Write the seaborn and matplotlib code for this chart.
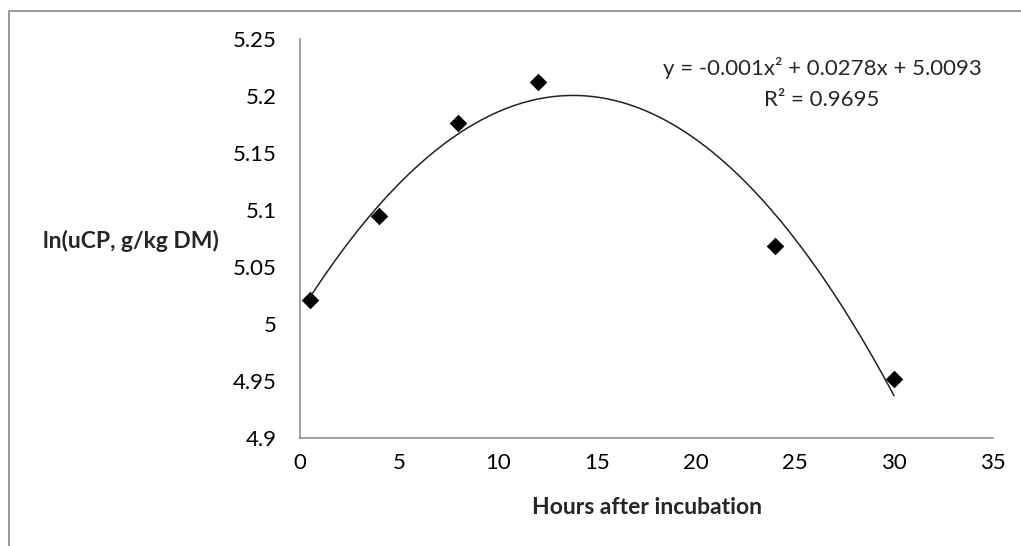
import numpy as np
import pandas as pd
import matplotlib
matplotlib.use('Agg')
import matplotlib.pyplot as plt
import seaborn as sns
from matplotlib.ticker import FuncFormatter, MultipleLocator
from matplotlib.patches import Rectangle

# ==============================
# Data
# ==============================
hours = [0.5, 4, 8, 12, 24, 30]
ln_ucp = [5.021, 5.095, 5.177, 5.213, 5.0685, 4.952]
equation = "y = -0.001x² + 0.0278x + 5.0093"
r_squared = "R² = 0.9695"

df = pd.DataFrame({"hours": hours, "ln_ucp": ln_ucp})

sns.set_style("white")
plt.rcParams['font.family'] = ['Lato', 'DejaVu Sans']

fig = plt.figure(figsize=(10.21, 5.46), dpi=100)
ax = fig.add_axes([300 / 1021, 1 - 438 / 546, 693 / 1021, 398.5 / 546])

# points + 2nd order trendline
sns.regplot(data=df, x="hours", y="ln_ucp", order=2, ci=None, ax=ax,
            marker="D",
            scatter_kws={"color": "black", "s": 80, "edgecolor": "black", "linewidths": 0, "alpha": 1},
            line_kws={"color": "#222222", "linewidth": 1.1})

ax.set_xlim(0, 35)
ax.set_ylim(4.9, 5.25)
ax.xaxis.set_major_locator(MultipleLocator(5))
ax.yaxis.set_major_locator(MultipleLocator(0.05))
ax.yaxis.set_major_formatter(FuncFormatter(lambda v, p: f"{v:g}"))

gray = "#868686"
for s in ["top", "right"]:
    ax.spines[s].set_visible(False)
for s in ["left", "bottom"]:
    ax.spines[s].set_color(gray)
    ax.spines[s].set_linewidth(1.1)
ax.tick_params(axis="both", direction="out", length=4, width=1, color=gray,
               labelsize=16, labelcolor="black")
ax.tick_params(axis="x", pad=7)
ax.tick_params(axis="y", pad=13)
ax.set_xlabel("")
ax.set_ylabel("")

fig.text(647 / 1021, 1 - 508 / 546, "Hours after incubation", ha="center", va="center",
         fontsize=16.5, fontweight="bold")
fig.text(131 / 1021, 1 - 241 / 546, "ln(uCP, g/kg DM)", ha="center", va="center",
         fontsize=16.5, fontweight="bold")

fig.text(822 / 1021, 1 - 68 / 546, equation, ha="center", va="center", fontsize=16)
fig.text(822 / 1021, 1 - 100 / 546, r_squared, ha="center", va="center", fontsize=16)

# chart frame (cropped at right and bottom)
fig.patches.append(Rectangle((9 / 1021, -0.05), 1.2, 0.05 + 1 - 11 / 546,
                             transform=fig.transFigure, fill=False,
                             edgecolor=gray, linewidth=1.2))

fig.savefig("out.png", dpi=100)
